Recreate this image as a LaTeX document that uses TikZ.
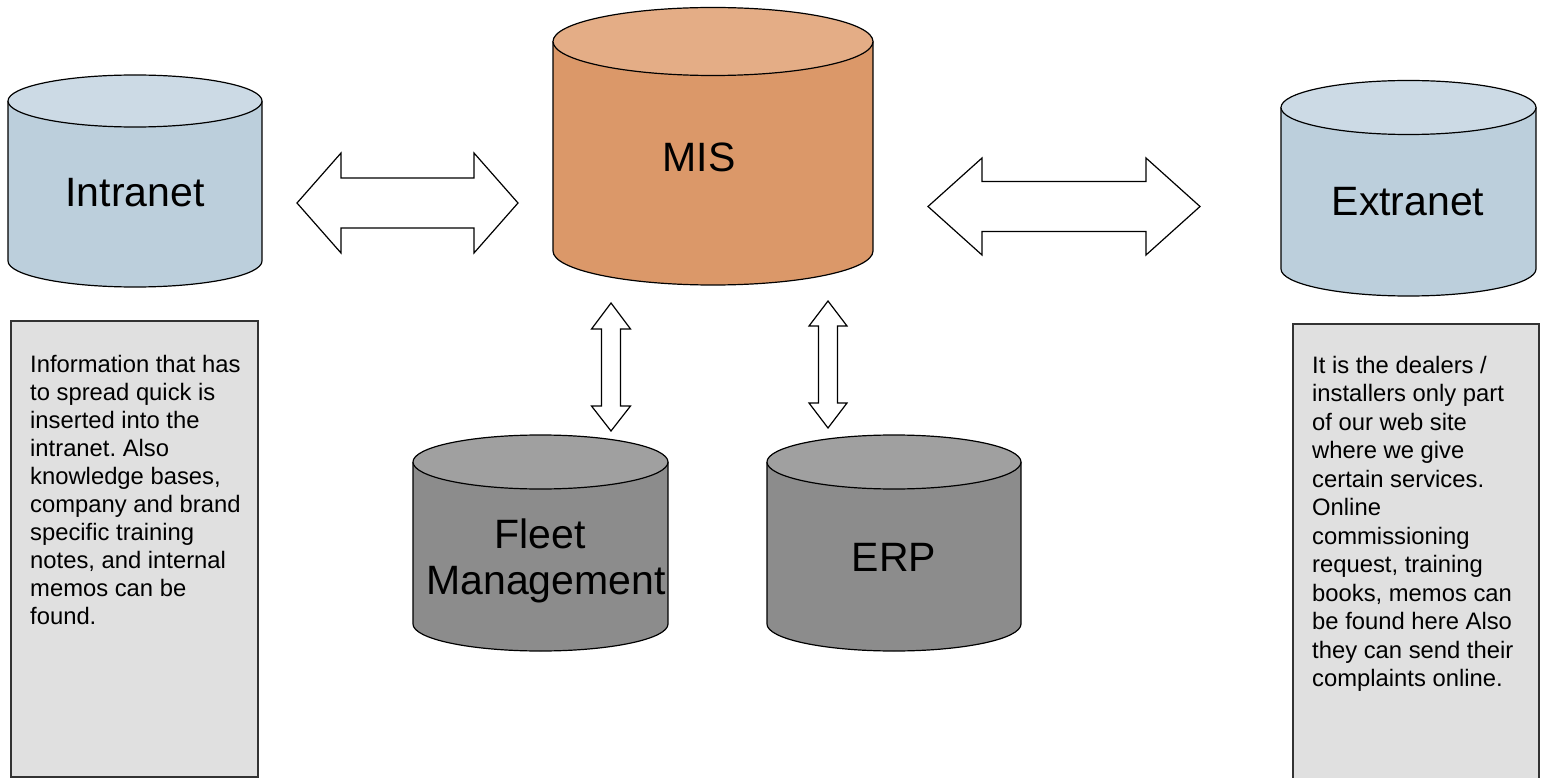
\documentclass[tikz,border=0pt]{standalone}
\usepackage{fontspec}
\setmainfont{Liberation Sans}
\frenchspacing
\definecolor{netbody}{HTML}{BCCFDC}
\definecolor{nettop}{HTML}{CCDAE5}
\definecolor{misbody}{HTML}{DB9869}
\definecolor{mistop}{HTML}{E4AD86}
\definecolor{sysbody}{HTML}{8C8C8C}
\definecolor{systop}{HTML}{A0A0A0}
\definecolor{notefill}{HTML}{E0E0E0}
\definecolor{noteline}{HTML}{333333}

\tikzset{
  drumline/.style={draw=black, line width=1.2pt},
  drumlabel/.style={inner sep=0pt, font=\fontsize{41}{46}\selectfont, align=center},
  blockarrow/.style={draw=black, fill=white, line width=1.2pt, line join=miter},
  notebox/.style={fill=notefill, draw=noteline, line width=1.3pt},
  notetext/.style={anchor=north west, inner sep=0pt, align=left},
}

% database drum: x-left, x-right, y of top rim, y of bottom rim, rim radius, body colour, lid colour
\newcommand\dbdrum[7]{%
  \pgfmathsetmacro\drx{(#2-#1)/2}%
  \pgfmathsetmacro\dcx{(#1+#2)/2}%
  \fill[#6] (#1,#3) rectangle (#2,#4);
  \fill[#6] (\dcx,#4) ellipse ({\drx} and {#5});
  \draw[drumline] (#1,#3) -- (#1,#4)
    arc[start angle=180, end angle=0, x radius=\drx, y radius=#5] -- (#2,#3);
  \filldraw[fill=#7, drumline] (\dcx,#3) ellipse ({\drx} and {#5});
}

% horizontal double block arrow: left tip, left head base, right head base, right tip, axis, head half, shaft half
\newcommand\hblock[7]{%
  \draw[blockarrow] (#1,#5) -- (#2,#5-#6) -- (#2,#5-#7) -- (#3,#5-#7) -- (#3,#5-#6)
    -- (#4,#5) -- (#3,#5+#6) -- (#3,#5+#7) -- (#2,#5+#7) -- (#2,#5+#6) -- cycle;
}
% vertical double block arrow: top tip, top head base, bottom head base, bottom tip, axis, head half, shaft half
\newcommand\vblock[7]{%
  \draw[blockarrow] (#5,#1) -- (#5+#6,#2) -- (#5+#7,#2) -- (#5+#7,#3) -- (#5+#6,#3)
    -- (#5,#4) -- (#5-#6,#3) -- (#5-#7,#3) -- (#5-#7,#2) -- (#5-#6,#2) -- cycle;
}

\begin{document}
\begin{tikzpicture}[x=1pt, y=-1pt]
\useasboundingbox (0,0) rectangle (1543,778);
\begin{scope}
\clip (0,0) rectangle (1543,778);

% databases
\dbdrum{8}{262}{101}{261}{26}{netbody}{nettop}
\node[drumlabel] (intranet) at (135,193) {Intranet};

\dbdrum{553}{873}{41.5}{251}{34}{misbody}{mistop}
\node[drumlabel] (mis) at (699,157) {MIS};

\dbdrum{1281}{1536}{107.5}{269}{27}{netbody}{nettop}
\node[drumlabel] (extranet) at (1408,202) {Extranet};

\dbdrum{413}{668}{462}{624}{27}{sysbody}{systop}
\node[drumlabel] (fleet) at (546,561) {\makebox[0pt]{\hspace{-12pt}Fleet}\\Management};

\dbdrum{767}{1021}{462}{624}{27}{sysbody}{systop}
\node[drumlabel] (erp) at (894,557) {ERP};

% links
\hblock{297}{341}{474}{518}{203}{50}{25}
\hblock{928}{982}{1146}{1200}{206.5}{48.5}{25}
\vblock{303}{329}{406}{431}{611}{19.5}{9.5}
\vblock{301}{326}{403}{428}{828}{19}{9.5}

% notes
\draw[notebox] (11,321) rectangle (258,777);
\node[notetext, font=\fontsize{23.8}{28}\selectfont] (intranetnote) at (30,355) {Information that has\\to spread quick is\\inserted into the\\intranet. Also\\knowledge bases,\\company and brand\\specific training\\notes, and internal\\memos can be\\found.};

\draw[notebox] (1293,324) rectangle (1539,800);
\node[notetext, font=\fontsize{23.8}{28.5}\selectfont] (extranetnote) at (1312,356) {It is the dealers /\\installers only part\\of our web site\\where we give\\certain services.\\Online\\commissioning\\request, training\\books, memos can\\be found here Also\\they can send their\\complaints online.};
\end{scope}
\end{tikzpicture}
\end{document}
